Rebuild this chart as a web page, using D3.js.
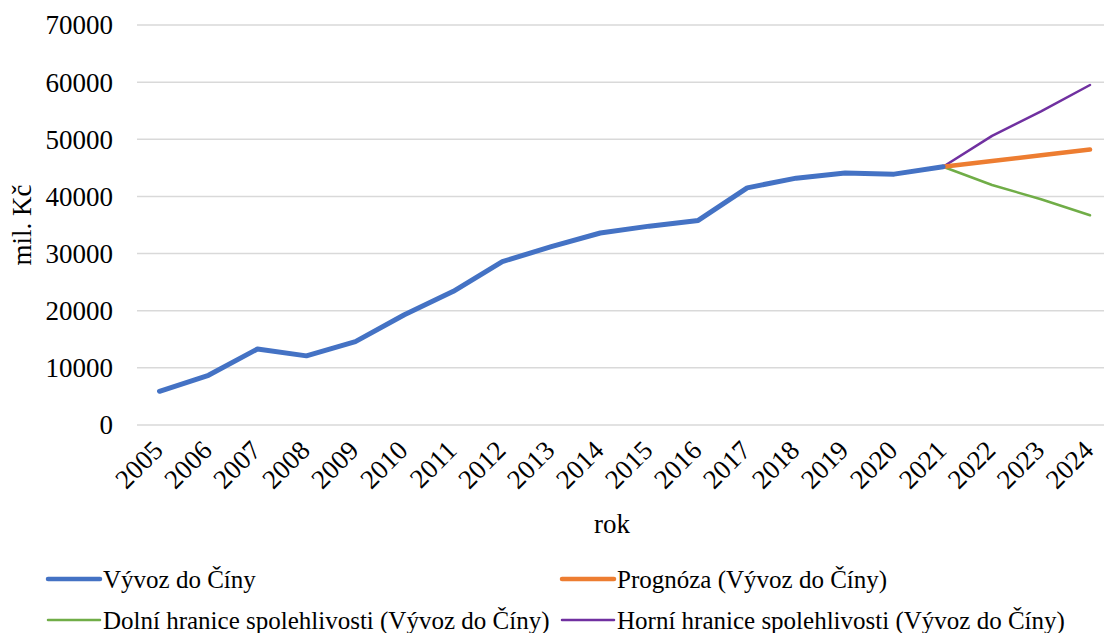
<!DOCTYPE html>
<html>
<head>
<meta charset="utf-8">
<script src="https://cdn.jsdelivr.net/npm/d3@7"></script>
</head>
<body style="margin:0">
<div id="chart"></div>
<script>
// data (mil. Kč)
var years = [2005, 2006, 2007, 2008, 2009, 2010, 2011, 2012, 2013, 2014,
             2015, 2016, 2017, 2018, 2019, 2020, 2021, 2022, 2023, 2024];
var exportYears = years.slice(0, 17);
var exportValues = [5900, 8700, 13300, 12100, 14600, 19300, 23400, 28600, 31200, 33600,
                    34800, 35800, 41500, 43200, 44100, 43900, 45200];
var forecastYears = [2021, 2022, 2023, 2024];
var forecastValues = [45200, 46200, 47200, 48200];
var lowerValues = [45200, 42000, 39500, 36700];
var upperValues = [45200, 50600, 54900, 59500];
var yTicks = [0, 10000, 20000, 30000, 40000, 50000, 60000, 70000];

var series = [
    {name: "Vývoz do Číny", x: exportYears, y: exportValues, color: "#4472C4", w: 5, lw: 4.5},
    {name: "Prognóza (Vývoz do Číny)", x: forecastYears, y: forecastValues, color: "#ED7D31", w: 4.5, lw: 4.5},
    {name: "Dolní hranice spolehlivosti (Vývoz do Číny)", x: forecastYears, y: lowerValues, color: "#70AD47", w: 2.5, lw: 2.5},
    {name: "Horní hranice spolehlivosti (Vývoz do Číny)", x: forecastYears, y: upperValues, color: "#7030A0", w: 2.5, lw: 2.5}
];

var width = 1104, height = 633;
var plotLeft = 137, plotTop = 25, plotBottom = 425;

var svg = d3.select("#chart").append("svg")
    .attr("width", width)
    .attr("height", height);

function label(sel, size) {
    return sel.attr("font-family", "Liberation Serif, Times New Roman, Tinos, serif")
        .style("font-family", "'Liberation Serif', 'Times New Roman', Tinos, serif")
        .attr("font-size", size)
        .style("font-size", size + "px")
        .attr("fill", "#000");
}

var x = d3.scalePoint()
    .domain(years)
    .range([159.5, 1090]);

var y = d3.scaleLinear()
    .domain([0, 70000])
    .range([plotBottom, plotTop]);

// gridlines
svg.append("g")
    .selectAll("line")
    .data(yTicks)
    .enter().append("line")
    .attr("x1", plotLeft)
    .attr("x2", width)
    .attr("y1", function(d){ return y(d); })
    .attr("y2", function(d){ return y(d); })
    .style("stroke", "#d9d9d9")
    .style("stroke-width", 1.5);

// y tick labels
svg.append("g")
    .selectAll("text")
    .data(yTicks)
    .enter().append("text")
    .attr("x", 113)
    .attr("y", function(d){ return y(d); })
    .attr("dy", "0.35em")
    .attr("text-anchor", "end")
    .call(label, 27)
    .text(function(d){ return d; });

// x tick labels
svg.append("g")
    .selectAll("text")
    .data(years)
    .enter().append("text")
    .attr("text-anchor", "end")
    .attr("transform", function(d){ return "translate(" + (x(d) + 5) + "," + 452 + ") rotate(-45)"; })
    .call(label, 27)
    .text(function(d){ return d; });

// axis titles
svg.append("text")
    .attr("transform", "translate(31,225) rotate(-90)")
    .attr("text-anchor", "middle")
    .call(label, 27)
    .text("mil. Kč");

svg.append("text")
    .attr("x", 612)
    .attr("y", 533)
    .attr("text-anchor", "middle")
    .call(label, 27)
    .text("rok");

// lines
var line = d3.line()
    .x(function(d){ return x(d[0]); })
    .y(function(d){ return y(d[1]); });

series.slice().reverse().forEach(function(s){
    svg.append("path")
        .datum(d3.zip(s.x, s.y))
        .attr("d", line)
        .style("fill", "none")
        .style("stroke", s.color)
        .style("stroke-width", s.w)
        .style("stroke-linecap", "round")
        .style("stroke-linejoin", "round");
});

// legend
var legendPos = [[48, 579], [562, 579], [48, 620], [562, 620]];
series.forEach(function(s, i){
    var g = svg.append("g")
        .attr("transform", "translate(" + legendPos[i][0] + "," + legendPos[i][1] + ")");
    g.append("line")
        .attr("x1", 0).attr("x2", 52)
        .attr("y1", 0).attr("y2", 0)
        .style("stroke", s.color)
        .style("stroke-width", s.lw)
        .style("stroke-linecap", "round");
    g.append("text")
        .attr("x", 55)
        .attr("dy", "0.35em")
        .call(label, 25)
        .text(s.name);
});
</script>
</body>
</html>
